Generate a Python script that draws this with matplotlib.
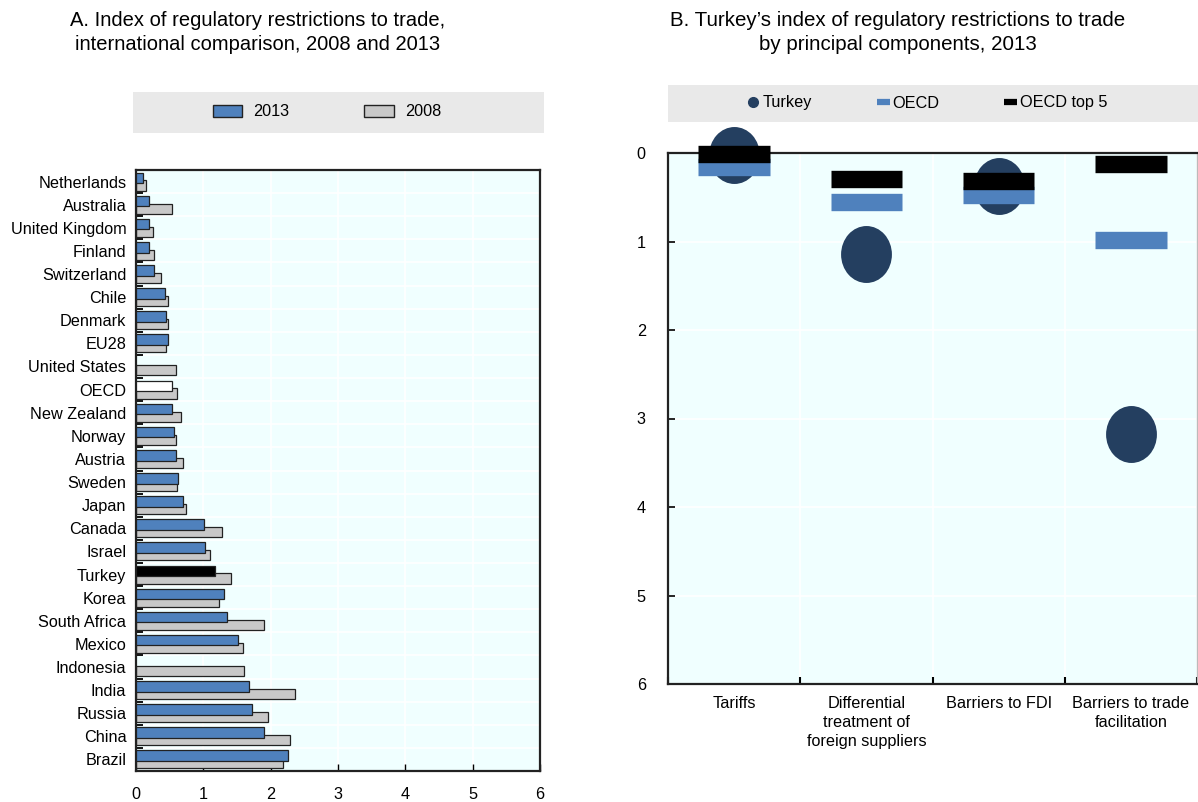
import matplotlib
matplotlib.use("Agg")
import matplotlib.pyplot as plt
from matplotlib.patches import Rectangle, Patch
from matplotlib.lines import Line2D
from matplotlib.path import Path
from matplotlib.markers import MarkerStyle
import numpy as np

# ---------------- data ----------------
countries = ["Netherlands", "Australia", "United Kingdom", "Finland", "Switzerland", "Chile",
             "Denmark", "EU28", "United States", "OECD", "New Zealand", "Norway", "Austria",
             "Sweden", "Japan", "Canada", "Israel", "Turkey", "Korea", "South Africa", "Mexico",
             "Indonesia", "India", "Russia", "China", "Brazil"]
v2013 = [0.10, 0.19, 0.20, 0.20, 0.27, 0.43, 0.45, 0.47, np.nan, 0.53, 0.53, 0.56, 0.59,
         0.62, 0.70, 1.01, 1.03, 1.17, 1.30, 1.35, 1.52, np.nan, 1.68, 1.72, 1.90, 2.25]
v2008 = [0.15, 0.53, 0.25, 0.27, 0.37, 0.47, 0.48, 0.45, 0.60, 0.61, 0.67, 0.60, 0.70,
         0.61, 0.74, 1.28, 1.10, 1.41, 1.24, 1.90, 1.59, 1.60, 2.36, 1.96, 2.29, 2.19]
x_ticks_a = [0, 1, 2, 3, 4, 5, 6]

components = ["Tariffs", "Differential\ntreatment of\nforeign suppliers", "Barriers to FDI",
              "Barriers to trade\nfacilitation"]
turkey = [0.02, 1.14, 0.37, 3.17]
oecd = [0.16, 0.55, 0.47, 0.98]
oecd_top5 = [0.01, 0.29, 0.32, 0.12]
y_ticks_b = [0, 1, 2, 3, 4, 5, 6]

# ---------------- style ----------------
FONT = ["Liberation Sans Narrow", "Liberation Sans", "DejaVu Sans"]
plt.rcParams["font.family"] = FONT
BG = "#F0FFFF"
BLUE = "#4F81BD"
GREY = "#C8C8C8"
NAVY = "#243F60"
BAND = "#E9E9E9"
FS = 11.7
TFS = 14.5

W, H = 1198, 802
fig = plt.figure(figsize=(W / 100, H / 100), dpi=100)

def fx(px):
    return px / W

def fy(py):
    return 1 - py / H

# ---------------- panel A ----------------
axA = fig.add_axes([fx(136), fy(771), fx(540 - 136), fy(170) - fy(771)])
axA.set_facecolor(BG)
n = len(countries)
pos = np.arange(n)
c2013 = [BLUE] * n
c2013[countries.index("Turkey")] = "black"
c2013[countries.index("OECD")] = "white"
axA.barh(pos + 0.17, v2008, height=0.44, color=GREY, edgecolor="#222222", linewidth=0.9, zorder=2)
axA.barh(pos - 0.16, v2013, height=0.46, color=c2013, edgecolor="#222222", linewidth=0.9, zorder=3)
axA.set_ylim(n - 0.5, -0.5)
axA.set_xlim(0, 6)
axA.set_yticks(pos)
axA.set_yticklabels(countries, fontsize=FS)
axA.set_yticks(np.arange(n + 1) - 0.5, minor=True)
axA.tick_params(axis="y", which="major", length=0, pad=7)
axA.tick_params(axis="y", which="minor", direction="in", length=5, width=1.3, color="black")
axA.set_xticks(x_ticks_a)
axA.set_xticklabels([str(t) for t in x_ticks_a], fontsize=FS)
axA.tick_params(axis="x", direction="in", length=5, width=1.0, pad=11.5)
axA.grid(True, axis="x", which="major", color="white", linewidth=1.2, zorder=0)
axA.grid(True, axis="y", which="minor", color="white", linewidth=1.2, zorder=0)
axA.set_axisbelow(True)
for s in axA.spines.values():
    s.set_color("#222222")
    s.set_linewidth(1.6)

# legend band A
fig.patches.append(Rectangle((fx(133), fy(133)), fx(544 - 133), fy(92) - fy(133),
                             transform=fig.transFigure, facecolor=BAND, edgecolor="none", zorder=0))
hA = [Patch(facecolor=BLUE, edgecolor="#222222", linewidth=1.0),
      Patch(facecolor=GREY, edgecolor="#222222", linewidth=1.0)]
fig.legend(hA, ["2013", "2008"], loc="center", bbox_to_anchor=(fx(327), fy(112)), ncol=2,
           frameon=False, fontsize=FS, handlelength=1.8, handleheight=0.8,
           columnspacing=4.6, handletextpad=0.7)

fig.text(fx(258), fy(20), "A. Index of regulatory restrictions to trade,", ha="center", va="center",
         fontsize=TFS, family=["Liberation Sans", "DejaVu Sans"])
fig.text(fx(258), fy(45), "international comparison, 2008 and 2013", ha="center", va="center",
         fontsize=TFS, family=["Liberation Sans", "DejaVu Sans"])

# ---------------- panel B ----------------
axB = fig.add_axes([fx(668), fy(684), fx(1197 - 668), fy(153) - fy(684)])
axB.set_facecolor(BG)
m = len(components)
xb = np.arange(m)
circ = Path.unit_circle()
ell = Path(circ.vertices * np.array([1.0, 1.12]), circ.codes)
axB.plot(xb, turkey, linestyle="none", marker=MarkerStyle(ell), markersize=41,
         color=NAVY, markeredgewidth=0, zorder=3, clip_on=False)
axB.hlines(oecd, xb - 0.27, xb + 0.27, colors=BLUE, linewidth=12.5, zorder=4, clip_on=False)
axB.hlines(oecd_top5, xb - 0.27, xb + 0.27, colors="black", linewidth=12.5, zorder=5, clip_on=False)
axB.set_xlim(-0.5, m - 0.5)
axB.set_ylim(6, 0)
axB.set_yticks(y_ticks_b)
axB.set_yticklabels([str(t) for t in y_ticks_b], fontsize=FS)
axB.tick_params(axis="y", direction="in", length=5, width=1.2, pad=16)
axB.set_xticks(xb)
axB.set_xticklabels(components, fontsize=FS, linespacing=1.3)
axB.tick_params(axis="x", which="major", length=0, pad=9)
axB.set_xticks(np.arange(m + 1) - 0.5, minor=True)
axB.tick_params(axis="x", which="minor", direction="in", length=5, width=1.5)
axB.grid(True, axis="y", which="major", color="white", linewidth=1.2, zorder=0)
axB.grid(True, axis="x", which="minor", color="white", linewidth=1.2, zorder=0)
axB.set_axisbelow(True)
for k, s in axB.spines.items():
    s.set_color("#222222")
    s.set_linewidth(1.6)
axB.spines["right"].set_color("#BBBBBB")
axB.spines["right"].set_linewidth(1.0)

# legend band B
fig.patches.append(Rectangle((fx(668), fy(122)), fx(1198 - 668), fy(85) - fy(122),
                             transform=fig.transFigure, facecolor=BAND, edgecolor="none", zorder=0))
hB = [Line2D([], [], linestyle="none", marker="o", markersize=7, color=NAVY),
      Line2D([], [], color=BLUE, linewidth=4.5, solid_capstyle="butt"),
      Line2D([], [], color="black", linewidth=4.5, solid_capstyle="butt")]
fig.legend(hB, ["Turkey", "OECD", "OECD top 5"], loc="center", bbox_to_anchor=(fx(927), fy(103)),
           ncol=3, frameon=False, fontsize=FS, handlelength=0.8, handletextpad=0.15,
           columnspacing=4.0)

fig.text(fx(898), fy(20), "B. Turkey\u2019s index of regulatory restrictions to trade", ha="center",
         va="center", fontsize=14.8, family=["Liberation Sans", "DejaVu Sans"])
fig.text(fx(898), fy(45), "by principal components, 2013", ha="center", va="center",
         fontsize=14.8, family=["Liberation Sans", "DejaVu Sans"])

fig.savefig("out.png", dpi=100)
